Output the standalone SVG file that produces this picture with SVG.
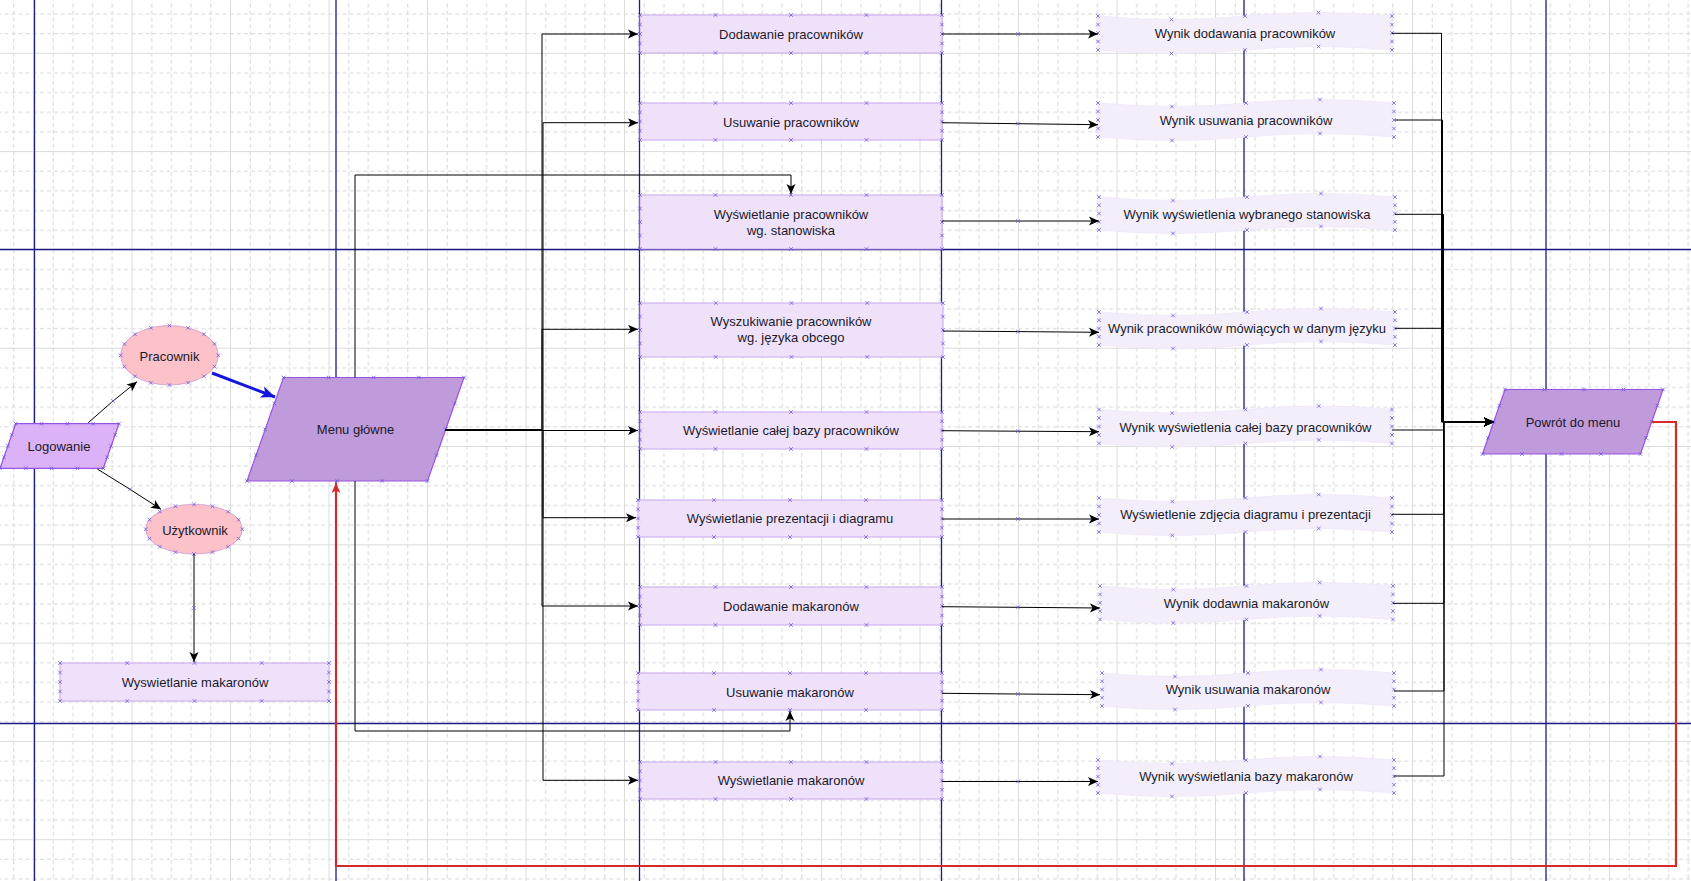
<svg xmlns="http://www.w3.org/2000/svg" width="1691" height="881" viewBox="0 0 1691 881">
<style>
.nav{stroke:#1c1c84;stroke-width:1.3;fill:none}
.box{fill:#f0e1fb;stroke:#c9a6ee;stroke-width:1}
.wyn{fill:#f4eefb;stroke:#efe6f9;stroke-width:0.8}
.para{fill:#bf9bdb;stroke:#9a52e4;stroke-width:1.2}
.login{fill:#dbb1f7;stroke:#9a52e4;stroke-width:1.2}
.ell{fill:#fcc1c9;stroke:#d6a6d6;stroke-width:1}
.pts{fill:none;stroke:none;marker-start:url(#x);marker-mid:url(#x);marker-end:url(#x)}
.t{font-family:"Liberation Sans",Arial,sans-serif;font-size:13px;fill:#1a1a2a;text-anchor:middle}
.c{fill:none;stroke:#000;stroke-width:1;marker-end:url(#a)}
.cm{marker-mid:url(#x)}
</style>
<defs>
<pattern id="grid" patternUnits="userSpaceOnUse" x="33" y="52.8" width="98.5" height="98.3">
<path d="M20.2 0V98.3M39.9 0V98.3M59.6 0V98.3M79.3 0V98.3M0 20.16H98.5M0 39.82H98.5M0 59.48H98.5M0 79.14H98.5" stroke="#d6d6d6" stroke-width="1" stroke-dasharray="4 3" fill="none"/>
<path d="M0.5 0V98.3M0 0.5H98.5" stroke="#dcdcdc" stroke-width="1" fill="none"/>
</pattern>
<marker id="a" markerUnits="userSpaceOnUse" markerWidth="12" markerHeight="10" refX="10" refY="4.5" orient="auto" overflow="visible"><path d="M0,0 L10,4.5 L0,9 L2.5,4.5 Z" fill="#000"/></marker>
<marker id="ab" markerUnits="userSpaceOnUse" markerWidth="16" markerHeight="14" refX="14" refY="6" orient="auto" overflow="visible"><path d="M0,0 L14,6 L0,12 L3.5,6 Z" fill="#1515e0"/></marker>
<marker id="ar" markerUnits="userSpaceOnUse" markerWidth="12" markerHeight="10" refX="10" refY="4.5" orient="auto" overflow="visible"><path d="M0,0 L10,4.5 L0,9 L2.5,4.5 Z" fill="#d42a2a"/></marker>
<marker id="x" markerUnits="userSpaceOnUse" markerWidth="6" markerHeight="6" refX="3" refY="3" overflow="visible"><path d="M1.2,1.2 L4.8,4.8 M4.8,1.2 L1.2,4.8" stroke="#6b5cd8" stroke-width="0.8" fill="none"/></marker>
</defs>
<rect width="1691" height="881" fill="#fff"/>
<rect width="1691" height="881" fill="url(#grid)"/>
<g id="lanes">
<path class="nav" d="M34.5 0V881M336 0V881M639.5 0V881M941.5 0V881M1244 0V881M1546 0V881M0 249.5H1691M0 723.5H1691"/>
</g>

<g id="logowanie">
<path class="login" d="M15.7 423.7H119L103.3 468.3H0Z"/>
<path class="pts" d="M15.7 423.7h25.825h25.825h25.825h25.825l-3.925 11.15l-3.925 11.15l-3.925 11.15l-3.925 11.15h-25.825h-25.825h-25.825h-25.825l3.925 -11.15l3.925 -11.15l3.925 -11.15"/>
<text class="t" x="59" y="451">Logowanie</text>
</g>
<g id="pracownik">
<ellipse class="ell" cx="169.5" cy="355.3" rx="48.8" ry="29.7"/>
<path class="pts" d="M218.3 355.3L214.59 366.67L204.01 376.3L188.18 382.74L169.5 385L150.82 382.74L134.99 376.3L124.41 366.67L120.7 355.3L124.41 343.93L134.99 334.3L150.82 327.86L169.5 325.6L188.18 327.86L204.01 334.3L214.59 343.93"/>
<text class="t" x="169.5" y="361">Pracownik</text>
</g>
<g id="uzytkownik">
<ellipse class="ell" cx="194" cy="529.2" rx="48.3" ry="24.8"/>
<path class="pts" d="M242.3 529.2L238.62 538.69L228.15 546.74L212.48 552.11L194 554L175.52 552.11L159.85 546.74L149.38 538.69L145.7 529.2L149.38 519.71L159.85 511.66L175.52 506.29L194 504.4L212.48 506.29L228.15 511.66L238.62 519.71"/>
<text class="t" x="195" y="535">Użytkownik</text>
</g>
<g id="wyswietlanie-makaronow-user">
<rect class="box" x="60" y="663" width="269" height="38"/>
<path class="pts" d="M60 663h67.25h67.25h67.25h67.25v9.5v9.5v9.5v9.5h-67.25h-67.25h-67.25h-67.25v-9.5v-9.5v-9.5"/>
<text class="t" x="195" y="687">Wyswietlanie makaronów</text>
</g>
<g id="menu">
<path class="para" d="M283.5 377.5H464L427.5 481H247Z"/>
<path class="pts" d="M283.5 377.5h45.125h45.125h45.125h45.125l-9.125 25.875l-9.125 25.875l-9.125 25.875l-9.125 25.875h-45.125h-45.125h-45.125h-45.125l9.125 -25.875l9.125 -25.875l9.125 -25.875"/>
<text class="t" x="355.5" y="433.5">Menu główne</text>
</g>

<g id="box1">
<rect class="box" x="640" y="15" width="302" height="38"/>
<path class="pts" d="M640 15h75.5h75.5h75.5h75.5v9.5v9.5v9.5v9.5h-75.5h-75.5h-75.5h-75.5v-9.5v-9.5v-9.5"/>
<text class="t" x="791" y="38.5">Dodawanie pracowników</text>
</g>
<g id="box2">
<rect class="box" x="640" y="103" width="302" height="37"/>
<path class="pts" d="M640 103h75.5h75.5h75.5h75.5v9.25v9.25v9.25v9.25h-75.5h-75.5h-75.5h-75.5v-9.25v-9.25v-9.25"/>
<text class="t" x="791" y="127">Usuwanie pracowników</text>
</g>
<g id="box3">
<rect class="box" x="640" y="195" width="302" height="54"/>
<path class="pts" d="M640 195h75.5h75.5h75.5h75.5v13.5v13.5v13.5v13.5h-75.5h-75.5h-75.5h-75.5v-13.5v-13.5v-13.5"/>
<text class="t" x="791" y="218.5">Wyświetlanie pracowników</text>
<text class="t" x="791" y="235">wg. stanowiska</text>
</g>
<g id="box4">
<rect class="box" x="640" y="303" width="303" height="54"/>
<path class="pts" d="M640 303h75.75h75.75h75.75h75.75v13.5v13.5v13.5v13.5h-75.75h-75.75h-75.75h-75.75v-13.5v-13.5v-13.5"/>
<text class="t" x="791" y="326">Wyszukiwanie pracowników</text>
<text class="t" x="791" y="342">wg. języka obcego</text>
</g>
<g id="box5">
<rect class="box" x="640" y="412" width="302" height="37"/>
<path class="pts" d="M640 412h75.5h75.5h75.5h75.5v9.25v9.25v9.25v9.25h-75.5h-75.5h-75.5h-75.5v-9.25v-9.25v-9.25"/>
<text class="t" x="791" y="435">Wyświetlanie całej bazy pracowników</text>
</g>
<g id="box6">
<rect class="box" x="638" y="500" width="304" height="37"/>
<path class="pts" d="M638 500h76h76h76h76v9.25v9.25v9.25v9.25h-76h-76h-76h-76v-9.25v-9.25v-9.25"/>
<text class="t" x="790" y="523">Wyświetlanie prezentacji i diagramu</text>
</g>
<g id="box7">
<rect class="box" x="640" y="587" width="302" height="38"/>
<path class="pts" d="M640 587h75.5h75.5h75.5h75.5v9.5v9.5v9.5v9.5h-75.5h-75.5h-75.5h-75.5v-9.5v-9.5v-9.5"/>
<text class="t" x="791" y="611">Dodawanie makaronów</text>
</g>
<g id="box8">
<rect class="box" x="638" y="673" width="304" height="37"/>
<path class="pts" d="M638 673h76h76h76h76v9.25v9.25v9.25v9.25h-76h-76h-76h-76v-9.25v-9.25v-9.25"/>
<text class="t" x="790" y="696.5">Usuwanie makaronów</text>
</g>
<g id="box9">
<rect class="box" x="640" y="762" width="302" height="37"/>
<path class="pts" d="M640 762h75.5h75.5h75.5h75.5v9.25v9.25v9.25v9.25h-75.5h-75.5h-75.5h-75.5v-9.25v-9.25v-9.25"/>
<text class="t" x="791" y="785">Wyświetlanie makaronów</text>
</g>

<g id="wynik1">
<path class="wyn" d="M1098 16q73.5 7 147 0t147 0v34q-73.5 -7 -147 0t-147 0z"/>
<path class="pts" d="M1098 16l73.5 3.5l73.5 -3.5l73.5 -3.5l73.5 3.5v8.5v8.5v8.5v8.5l-73.5 -3.5l-73.5 3.5l-73.5 3.5l-73.5 -3.5v-8.5v-8.5v-8.5"/>
<text class="t" x="1245" y="37.5">Wynik dodawania pracowników</text>
</g>
<g id="wynik2">
<path class="wyn" d="M1098 103q74 7 148 0t148 0v34q-74 -7 -148 0t-148 0z"/>
<path class="pts" d="M1098 103l74 3.5l74 -3.5l74 -3.5l74 3.5v8.5v8.5v8.5v8.5l-74 -3.5l-74 3.5l-74 3.5l-74 -3.5v-8.5v-8.5v-8.5"/>
<text class="t" x="1246" y="124.5">Wynik usuwania pracowników</text>
</g>
<g id="wynik3">
<path class="wyn" d="M1099 197q74 7 148 0t148 0v33q-74 -7 -148 0t-148 0z"/>
<path class="pts" d="M1099 197l74 3.5l74 -3.5l74 -3.5l74 3.5v8.25v8.25v8.25v8.25l-74 -3.5l-74 3.5l-74 3.5l-74 -3.5v-8.25v-8.25v-8.25"/>
<text class="t" x="1247" y="218.5">Wynik wyświetlenia wybranego stanowiska</text>
</g>
<g id="wynik4">
<path class="wyn" d="M1099 312q74 7 148 0t148 0v33q-74 -7 -148 0t-148 0z"/>
<path class="pts" d="M1099 312l74 3.5l74 -3.5l74 -3.5l74 3.5v8.25v8.25v8.25v8.25l-74 -3.5l-74 3.5l-74 3.5l-74 -3.5v-8.25v-8.25v-8.25"/>
<text class="t" x="1247" y="332.5">Wynik pracowników mówiących w danym języku</text>
</g>
<g id="wynik5">
<path class="wyn" d="M1099 409.5q73.25 7 146.5 0t146.5 0v34q-73.25 -7 -146.5 0t-146.5 0z"/>
<path class="pts" d="M1099 409.5l73.25 3.5l73.25 -3.5l73.25 -3.5l73.25 3.5v8.5v8.5v8.5v8.5l-73.25 -3.5l-73.25 3.5l-73.25 3.5l-73.25 -3.5v-8.5v-8.5v-8.5"/>
<text class="t" x="1245.5" y="431.5">Wynik wyświetlenia całej bazy pracowników</text>
</g>
<g id="wynik6">
<path class="wyn" d="M1099 498q73.25 7 146.5 0t146.5 0v34q-73.25 -7 -146.5 0t-146.5 0z"/>
<path class="pts" d="M1099 498l73.25 3.5l73.25 -3.5l73.25 -3.5l73.25 3.5v8.5v8.5v8.5v8.5l-73.25 -3.5l-73.25 3.5l-73.25 3.5l-73.25 -3.5v-8.5v-8.5v-8.5"/>
<text class="t" x="1245.5" y="519">Wyświetlenie zdjęcia diagramu i prezentacji</text>
</g>
<g id="wynik7">
<path class="wyn" d="M1100 586q73.25 7 146.5 0t146.5 0v33.5q-73.25 -7 -146.5 0t-146.5 0z"/>
<path class="pts" d="M1100 586l73.25 3.5l73.25 -3.5l73.25 -3.5l73.25 3.5v8.375v8.375v8.375v8.375l-73.25 -3.5l-73.25 3.5l-73.25 3.5l-73.25 -3.5v-8.375v-8.375v-8.375"/>
<text class="t" x="1246.5" y="607.5">Wynik dodawnia makaronów</text>
</g>
<g id="wynik8">
<path class="wyn" d="M1102 673q73 7 146 0t146 0v33q-73 -7 -146 0t-146 0z"/>
<path class="pts" d="M1102 673l73 3.5l73 -3.5l73 -3.5l73 3.5v8.25v8.25v8.25v8.25l-73 -3.5l-73 3.5l-73 3.5l-73 -3.5v-8.25v-8.25v-8.25"/>
<text class="t" x="1248" y="694">Wynik usuwania makaronów</text>
</g>
<g id="wynik9">
<path class="wyn" d="M1098 760q74 7 148 0t148 0v33q-74 -7 -148 0t-148 0z"/>
<path class="pts" d="M1098 760l74 3.5l74 -3.5l74 -3.5l74 3.5v8.25v8.25v8.25v8.25l-74 -3.5l-74 3.5l-74 3.5l-74 -3.5v-8.25v-8.25v-8.25"/>
<text class="t" x="1246" y="781">Wynik wyświetlania bazy makaronów</text>
</g>

<g id="powrot">
<path class="para" d="M1505 389.5H1663L1640.5 454H1482.5Z"/>
<path class="pts" d="M1505 389.5h39.5h39.5h39.5h39.5l-5.625 16.125l-5.625 16.125l-5.625 16.125l-5.625 16.125h-39.5h-39.5h-39.5h-39.5l5.625 -16.125l5.625 -16.125l5.625 -16.125"/>
<text class="t" x="1573" y="426.5">Powrót do menu</text>
</g>

<g id="connectors">
<path class="c cm" d="M88.3 422.7L113 401L137 381.7"/>
<path class="c cm" d="M97.3 469L130 489.3L161 509.3"/>
<path class="c cm" d="M194 554V608V662"/>
<path d="M212 373L275 397" fill="none" stroke="#1515e0" stroke-width="3" marker-end="url(#ab)"/>

<path class="c" d="M445.6 430H542V34H638"/>
<path class="c" d="M445.6 430H543V122.7H638"/>
<path class="c" d="M445.6 430H542V329.3H638"/>
<path class="c" d="M445.6 430.5H638"/>
<path class="c" d="M445.6 430H543V517.7H636"/>
<path class="c" d="M445.6 430H542V606H638"/>
<path class="c" d="M445.6 430H543V780.3H638"/>
<path class="c" d="M355 377.5V175H791V194"/>
<path class="c" d="M355 481V731H790V711"/>

<path class="c cm" d="M942 34H1018H1098"/>
<path class="c cm" d="M942 122.7L1018 123.7L1098 124.7"/>
<path class="c cm" d="M942 221H1018H1099"/>
<path class="c cm" d="M943 331L1018 331.6L1099 332.3"/>
<path class="c cm" d="M942 430.7L1018 431.2L1099 431.7"/>
<path class="c cm" d="M942 519H1018H1099"/>
<path class="c cm" d="M942 606.7L1018 607.3L1100 608"/>
<path class="c cm" d="M942 693.3L1018 694L1100 694.7"/>
<path class="c cm" d="M942 781.5H1018H1098"/>

<path class="c" d="M1392 33.3H1441.5V422H1494"/>
<path class="c" d="M1395 120H1442.5V422H1494"/>
<path class="c" d="M1395 214.3H1443.5V422H1494"/>
<path class="c" d="M1395 328.3H1443V422H1494"/>
<path class="c" d="M1392 430H1443.5V422H1494"/>
<path class="c" d="M1392 514.3H1443.5V422H1494"/>
<path class="c" d="M1393 603.3H1444V422H1494"/>
<path class="c" d="M1394 691H1444V422H1494"/>
<path class="c" d="M1394 776H1444V422H1494"/>

<path d="M1652 422H1676V866H336V483" fill="none" stroke="#d42a2a" stroke-width="2.2" marker-end="url(#ar)"/>
</g>
</svg>
